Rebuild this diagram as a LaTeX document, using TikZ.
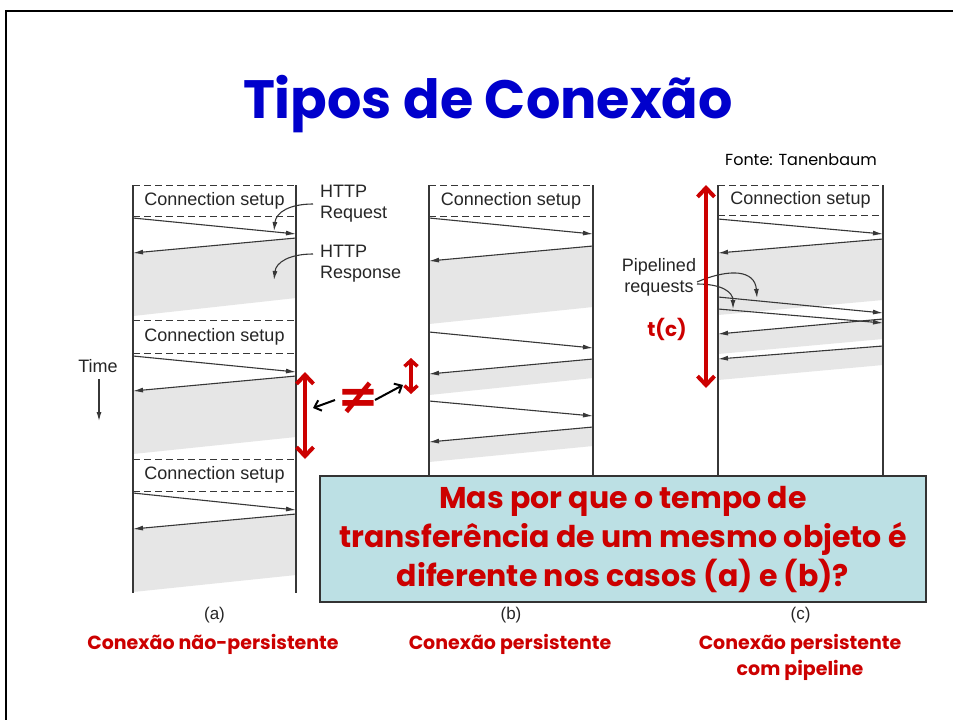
\documentclass[tikz,border=0pt]{standalone}
\usepackage{fontspec}
\setmainfont{Liberation Sans}
\newfontfamily\comic{Poppins}
\newfontfamily\symfont{DejaVu Sans}
\usetikzlibrary{arrows.meta}
\definecolor{titleblue}{RGB}{0,0,204}
\definecolor{darkred}{RGB}{204,0,0}
\definecolor{bandgray}{RGB}{230,230,230}
\definecolor{linegray}{RGB}{55,55,55}
\definecolor{boxfill}{RGB}{188,224,228}
\tikzset{
  msg/.style={draw=linegray, line width=1.1pt, -{Latex[length=10pt,width=5pt]}},
  lifeline/.style={draw=linegray, line width=1.2pt},
  setupline/.style={draw=linegray, line width=1pt, dash pattern=on 7pt off 4pt},
  band/.style={fill=bandgray},
  lbl/.style={font=\fontsize{18}{21}\selectfont, text=black!85, inner sep=0pt},
  small/.style={font=\fontsize{17}{20}\selectfont, text=black!85, inner sep=0pt},
  pointer/.style={draw=linegray, line width=1.1pt, -{Latex[length=9pt,width=5pt]}},
  redarrow/.style={draw=darkred, line width=4pt, {Straight Barb[length=9pt,width=17pt]}-{Straight Barb[length=9pt,width=17pt]}},
  blackarrow/.style={draw=black, line width=2pt, -{Straight Barb[length=6pt,width=11pt]}},
  redcap/.style={font=\comic\bfseries\fontsize{19}{26}\selectfont, text=darkred, align=center, inner sep=0pt},
}
\newcommand\mymsg[3]{\coordinate (#1s) at (#2); \coordinate (#1e) at (#3); \draw[msg] (#1s) -- (#1e);}
\begin{document}
\begin{tikzpicture}[x=1pt,y=-1pt]
\useasboundingbox (0,0) rectangle (953,720);
\fill[white] (0,0) rectangle (953,720);
% slide frame
\draw[line width=2.5pt, black] (6,720) -- (6,11) -- (953,11);

% title
\node[font=\comic\bfseries\fontsize{54}{60}\selectfont, text=titleblue, anchor=base] (title) at (488,118) {Tipos de Conexão};
\node[font=\comic\fontsize{16}{18}\selectfont, anchor=base, inner sep=0pt] (fonte) at (801,165) {Fonte: Tanenbaum};

%%%%%%%% panel (a)
\fill[band] (296,238) -- (133,253) -- (133,316) -- (296,298) -- cycle;
\fill[band] (296,376) -- (133,391) -- (133,454) -- (296,437) -- cycle;
\fill[band] (296,514) -- (133,529) -- (133,592) -- (296,575) -- cycle;
\draw[lifeline] (133,185) -- (133,593);
\draw[lifeline] (296,185) -- (296,593);
\foreach \y in {185,216,320,353,459,491} \draw[setupline] (133,\y) -- (296,\y);
\node[lbl] (sa1) at (214.5,200.5) {Connection setup};
\node[lbl] (sa2) at (214.5,337) {Connection setup};
\node[lbl] (sa3) at (214.5,475) {Connection setup};
\mymsg{aq1}{133,218}{296,234}
\mymsg{ar1}{296,238}{133,253}
\mymsg{aq2}{133,356}{296,372}
\mymsg{ar2}{296,376}{133,391}
\mymsg{aq3}{133,493}{296,510}
\mymsg{ar3}{296,514}{133,529}
\node[lbl, align=left, anchor=west] (httpreq) at (320,204) {HTTP\\Request};
\node[lbl, align=left, anchor=west] (httpresp) at (320,264) {HTTP\\Response};
\coordinate (reqtip) at (274,231);
\coordinate (resptip) at (274,280);
\draw[pointer] (313,204) .. controls (290,204) and (276,212) .. (reqtip);
\draw[pointer] (313,254) .. controls (290,254) and (276,262) .. (resptip);
\node[lbl] (time) at (98,366) {Time};
\coordinate (timetop) at (99,379);
\coordinate (timebot) at (99,421);
\draw[pointer] (timetop) -- (timebot);

%%%%%%%% panel (b)
\fill[band] (593,246) -- (429,261) -- (429,324) -- (593,307) -- cycle;
\fill[band] (593,359) -- (429,374) -- (429,395) -- (593,378) -- cycle;
\fill[band] (593,427) -- (429,442) -- (429,462) -- (593,446) -- cycle;
\draw[lifeline] (429,185) -- (429,593);
\draw[lifeline] (593,185) -- (593,593);
\foreach \y in {185,216} \draw[setupline] (429,\y) -- (593,\y);
\node[lbl] (sb1) at (511,200.5) {Connection setup};
\mymsg{bq1}{429,218}{593,234}
\mymsg{br1}{593,246}{429,261}
\mymsg{bq2}{429,332}{593,348}
\mymsg{br2}{593,359}{429,374}
\mymsg{bq3}{429,401}{593,416}
\mymsg{br3}{593,427}{429,442}

%%%%%%%% panel (c)
\fill[band] (883,239) -- (718,253) -- (718,315) -- (883,300) -- cycle;
\fill[band] (883,319) -- (718,334) -- (718,354) -- (883,339) -- cycle;
\fill[band] (883,346) -- (718,359) -- (718,380) -- (883,365) -- cycle;
\draw[lifeline] (718,185) -- (718,593);
\draw[lifeline] (883,185) -- (883,593);
\foreach \y in {185,215} \draw[setupline] (718,\y) -- (883,\y);
\node[lbl] (sc1) at (800.5,200) {Connection setup};
\mymsg{cq1}{718,219}{883,234}
\mymsg{cr1}{883,239}{718,253}
\mymsg{cq2}{718,297}{883,313}
\mymsg{cq3}{718,309}{883,323}
\mymsg{cr2}{883,319}{718,334}
\mymsg{cr3}{883,346}{718,359}
\node[lbl, align=center] (pipe) at (659,277) {Pipelined\\requests};
\coordinate (pipetip1) at (757,298);
\coordinate (pipetip2) at (733,309);
\draw[pointer] (697,282) .. controls (730,268) and (755,270) .. (pipetip1);
\draw[pointer] (697,284) .. controls (722,284) and (733,292) .. (pipetip2);
\coordinate (tctop) at (706,185);
\coordinate (tcbot) at (706,388);
\draw[redarrow] (tctop) -- (tcbot);
\node[font=\comic\bfseries\fontsize{20}{24}\selectfont, text=darkred] (tc) at (667,329) {t(c)};

%%%%%%%% comparison
\coordinate (bigtop) at (305,372);
\coordinate (bigbot) at (305,459);
\draw[redarrow] (bigtop) -- (bigbot);
\coordinate (smtop) at (411,358);
\coordinate (smbot) at (411,394);
\draw[draw=darkred, line width=3.5pt, {Straight Barb[length=6pt,width=13pt]}-{Straight Barb[length=6pt,width=13pt]}] (smtop) -- (smbot);
\node[font=\symfont\bfseries\fontsize{50}{52}\selectfont, text=darkred, inner sep=0pt] (neq) at (358,398) {≠};
\coordinate (la) at (313,408);
\coordinate (lb) at (335,400);
\coordinate (ra) at (375,400);
\coordinate (rb) at (403,385);
\draw[blackarrow] (lb) -- (la);
\draw[blackarrow] (ra) -- (rb);

%%%%%%%% question box
\node[draw=black!80, line width=2pt, fill=boxfill, minimum width=606pt, minimum height=126pt, inner sep=0pt] (box) at (623,539) {};
\node[font=\comic\bfseries\fontsize{30}{39}\selectfont, text=darkred, align=center] (question) at (623,540) {Mas por que o tempo de\\transferência de um mesmo objeto é\\diferente nos casos (a) e (b)?};

%%%%%%%% captions
\node[small] (capa) at (214.5,615) {(a)};
\node[small] (capb) at (511,615) {(b)};
\node[small] (capc) at (800.5,615) {(c)};
\node[redcap] (ra1) at (213,644) {Conexão não-persistente};
\node[redcap] (rb1) at (510,644) {Conexão persistente};
\node[redcap] (rc1) at (800,657) {Conexão persistente\\com pipeline};
\end{tikzpicture}
\end{document}
